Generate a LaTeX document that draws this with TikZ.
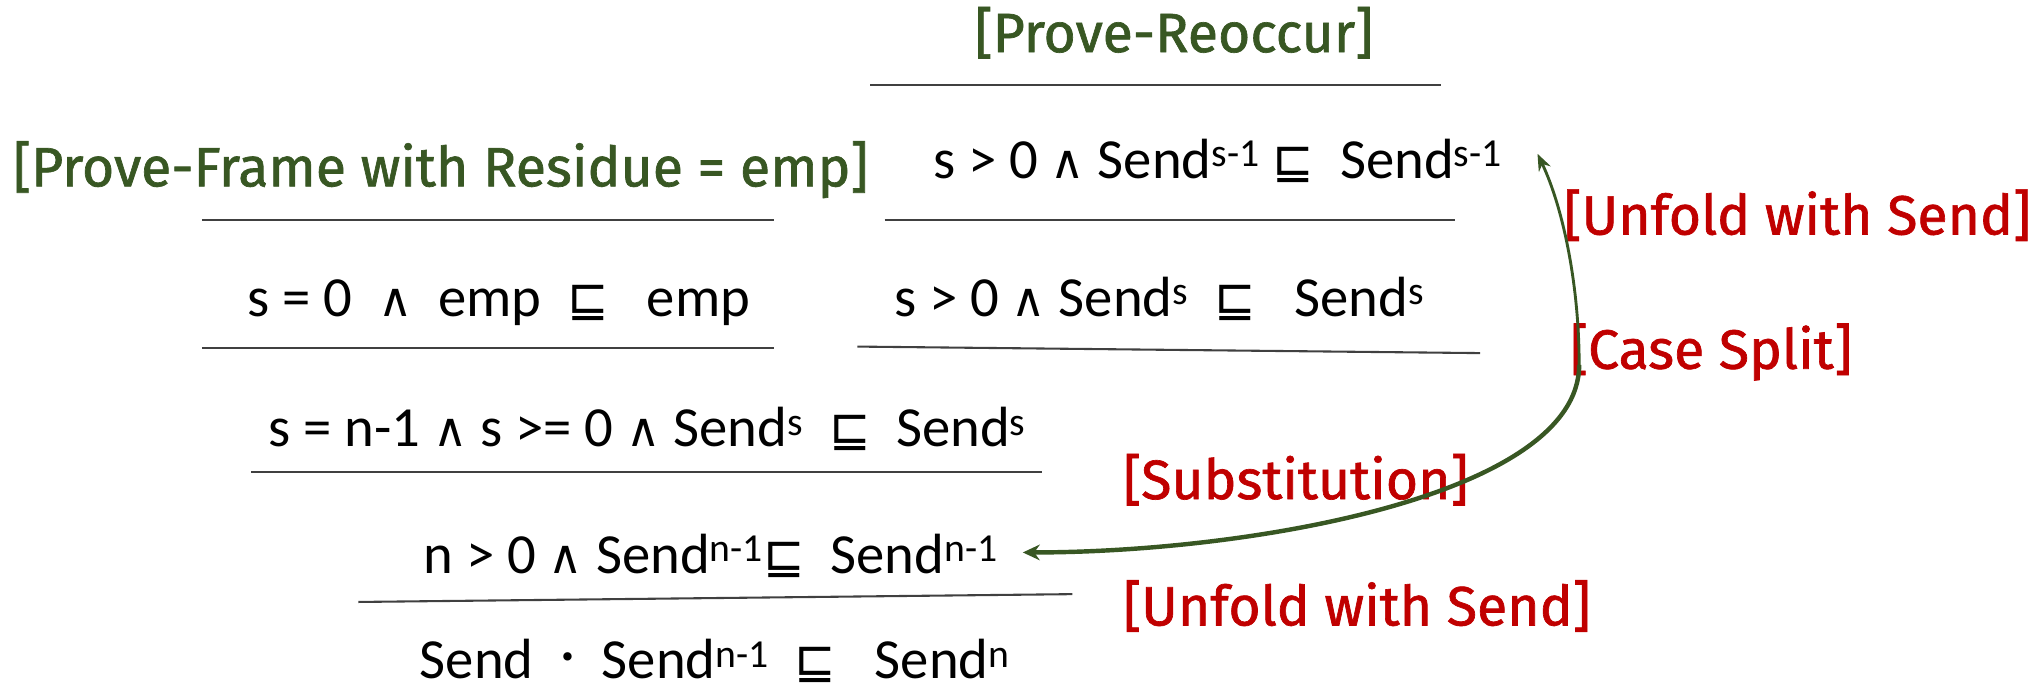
\documentclass[tikz,border=0pt]{standalone}
\usepackage{fontspec}
\setmainfont{Carlito}
\newfontfamily\labfont[FakeBold=1.2]{Fira Sans}
\newfontfamily\symfont{DejaVu Sans}
\usetikzlibrary{arrows.meta}
\definecolor{rulegreen}{RGB}{56,87,35}
\definecolor{rulered}{RGB}{192,0,0}
\definecolor{barcol}{RGB}{64,64,64}
\newcommand\upx[1]{\textsuperscript{#1}}
\newcommand\sqle{{\symfont\fontsize{38}{40}\selectfont ⊑}}
\newcommand\andd{{\symfont\fontsize{36}{40}\selectfont ∧}}
\newcommand\dotop{\raisebox{9pt}{\symfont\fontsize{22}{24}\selectfont •}}
\begin{document}
\begin{tikzpicture}[x=1pt,y=1pt,
  formula/.style={anchor=base west,inner sep=0pt,font=\fontsize{43.5}{48}\selectfont},
  glabel/.style={anchor=base west,inner sep=0pt,text=rulegreen,font=\labfont\fontsize{42.5}{46}\selectfont},
  rlabel/.style={anchor=base west,inner sep=0pt,text=rulered,font=\labfont\fontsize{42.5}{46}\selectfont},
  bar/.style={draw=barcol,line width=1.6pt},
  loopa/.style={draw=rulegreen,line width=2.2pt},
  loopb/.style={draw=rulegreen,line width=3.4pt}]
\useasboundingbox (0,0) rectangle (1568,-530);
% labels
\node[glabel] (pr) at (748,-40) {[Prove-Reoccur]};
\node[glabel] (pf) at (10,-143) {[Prove-Frame with Residue = emp]};
\node[rlabel] (u1) at (1200,-180) {[Unfold with Send]};
\node[rlabel] (cs) at (1205,-283) {[Case Split]};
\node[rlabel] (sb) at (862,-383) {[Substitution]};
\node[rlabel] (u2) at (862,-480) {[Unfold with Send]};
% bars
\coordinate (b1l) at (668,-65);  \coordinate (b1r) at (1106,-65);
\coordinate (b2l) at (155,-169); \coordinate (b2r) at (594,-169);
\coordinate (b3l) at (679,-169); \coordinate (b3r) at (1117,-169);
\coordinate (b4l) at (155,-267); \coordinate (b4r) at (594,-267);
\coordinate (b5l) at (658,-266); \coordinate (b5r) at (1136,-271);
\coordinate (b6l) at (193,-362); \coordinate (b6r) at (800,-362);
\coordinate (b7l) at (275,-462); \coordinate (b7r) at (823,-456);
\draw[bar] (b1l) -- (b1r);
\draw[bar] (b2l) -- (b2r);
\draw[bar] (b3l) -- (b3r);
\draw[bar] (b4l) -- (b4r);
\draw[bar] (b5l) -- (b5r);
\draw[bar] (b6l) -- (b6r);
\draw[bar] (b7l) -- (b7r);
% formulas
\node[formula] (f1) at (716,-137) {s > 0 \andd{} Send\upx{s-1} \sqle{}\ \ Send\upx{s-1}};
\node[formula] (f2) at (190,-243) {s = 0 \ \andd\ \ emp \ \sqle\ \ \ emp};
\node[formula] (f3) at (686,-243) {s > 0 \andd{} Send\upx{s} \ \sqle\ \ \ Send\upx{s}};
\node[formula] (f4) at (206,-343) {s = n-1 \andd{} s >= 0 \andd{} Send\upx{s} \ \sqle\ \ Send\upx{s}};
\node[formula] (f5) at (325,-440) {n > 0 \andd{} Send\upx{n-1}\sqle\ \ Send\upx{n-1}};
\node[formula] (f6) at (322,-521) {Send \ \dotop\ \ Send\upx{n-1} \ \sqle\ \ \ Send\upx{n}};
% loop arrow
\coordinate (lt) at (1180,-118);
\coordinate (lm) at (1212,-280);
\coordinate (lb) at (785,-424);
\draw[loopa,{Stealth[length=13pt,width=10pt]}-] (lt) .. controls (1200,-160) and (1212,-220) .. (lm);
\draw[loopb,-{Stealth[length=13pt,width=12pt]}] (lm) .. controls (1212,-380) and (960,-424) .. (lb);
\end{tikzpicture}
\end{document}
